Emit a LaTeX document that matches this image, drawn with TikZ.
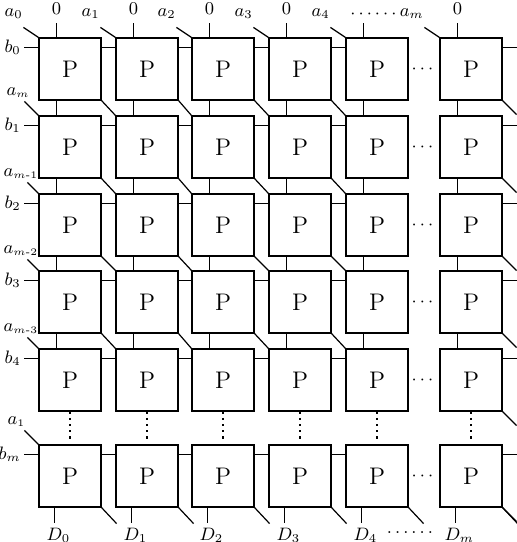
\documentclass[tikz,border=0pt]{standalone}
\usepackage{amsmath}
\usepackage{tikz}
\usetikzlibrary{calc}

\begin{document}
\begin{tikzpicture}[x=0.5pt, y=-0.5pt, line width=0.6pt]
    \tikzstyle{pe} = [rectangle, draw, minimum width=31pt, minimum height=31pt, inner sep=0pt, font=\large]
    \tikzstyle{lbl} = [inner sep=0pt, font=\small]
    \tikzstyle{dots} = [dotted, line width=1.1pt, shorten >=2.5pt]
    \useasboundingbox (0,0) rectangle (516,542);

    % cells
    \foreach \x [count=\c from 0] in {70,147,223,300,377,471}
      \foreach \y [count=\r from 0] in {69,147,225,302,380,476}
        \node[pe] (p\r\c) at (\x,\y) {P};

    % top inputs
    \foreach \c/\t in {0/0,1/1,2/2,3/3,4/4,5/m} {
      \coordinate (z\c) at ([xshift=9pt,yshift=7pt]p0\c.north west);
      \draw (z\c) -- (z\c |- p0\c.north);
      \coordinate (ta\c) at ([shift={(-7.5pt,5pt)}]p0\c.north west);
      \node[lbl, anchor=south east] (tal\c) at ([shift={(0pt,4pt)}]ta\c) {$a_{\t}$};
      \draw (ta\c) -- (p0\c.north west);
    }
    \foreach \c in {0,1,2,3,5}
      \node[lbl, above=4pt] (zl\c) at (z\c) {$0$};
    \node[lbl] (tdots) at (375,14) {$\cdots\cdots$};

    % left inputs
    \foreach \r/\t in {0/0,1/1,2/2,3/3,4/4,5/m} {
      \coordinate (bl\r) at ([shift={(-7pt,-5pt)}]p\r0.north west);
      \node[lbl, left=1.5pt] (blab\r) at (bl\r) {$b_{\t}$};
      \draw (bl\r) -- (bl\r -| p\r0.west);
    }
    \foreach \r/\t/\s/\u in {1/m/7/6,2/m\text{-}1/5.5/3,3/m\text{-}2/5.5/3,4/m\text{-}3/5.5/3,5/1/7/7} {
      \coordinate (la\r) at ([shift={(-\s pt,\s pt)}]p\r0.north west);
      \path (la\r -| 0,0) ++(\u,-3) node[lbl, anchor=south west] (lal\r) {$a_{\scriptscriptstyle\t}$};
      \draw (la\r) -- (p\r0.north west);
    }

    % links between rows
    \foreach \c in {0,...,5}
      \foreach \r/\s in {0/1,1/2,2/3,3/4}
        \draw ([xshift=9pt]p\r\c.south west) -- ([xshift=9pt]p\s\c.north west);
    \foreach \c in {0,...,5}
      \draw[dots] (p4\c.south) -- (p5\c.north);
    \foreach \r/\s in {0/1,1/2,2/3,3/4}
      \foreach \c/\d in {0/1,1/2,2/3,3/4}
        \draw (p\r\c.south east) -- (p\s\d.north west);

    % links between columns
    \foreach \r in {0,...,5} {
      \foreach \c/\d in {0/1,1/2,2/3,3/4}
        \draw ([yshift=-5pt]p\r\c.north east) -- ([yshift=-5pt]p\r\d.north west);
      \node[lbl] (hd\r) at ($(p\r4.east)!0.5!(p\r5.west)$) {$\cdots$};
    }

    % right outputs
    \foreach \r in {0,...,5} {
      \coordinate (rh\r) at ([shift={(7pt,-5pt)}]p\r5.north east);
      \draw ([yshift=-5pt]p\r5.north east) -- (rh\r);
      \coordinate (rd\r) at ([shift={(7pt,-7pt)}]p\r5.south east);
      \draw (p\r5.south east) -- (rd\r);
    }

    % bottom outputs
    \foreach \c/\t in {0/0,1/1,2/2,3/3,4/4,5/m} {
      \coordinate (dd\c) at ([xshift=8pt,yshift=-7.5pt]p5\c.south west);
      \node[lbl, below=2.5pt, xshift=2pt] (dl\c) at (dd\c) {$D_{\t}$};
      \draw (dd\c |- p5\c.south) -- (dd\c);
      \coordinate (bd\c) at ([shift={(7.5pt,-8pt)}]p5\c.south east);
      \draw (p5\c.south east) -- (bd\c);
    }
    \node[lbl] (bdots) at (410,533) {$\ldots\ldots$};
\end{tikzpicture}
\end{document}
